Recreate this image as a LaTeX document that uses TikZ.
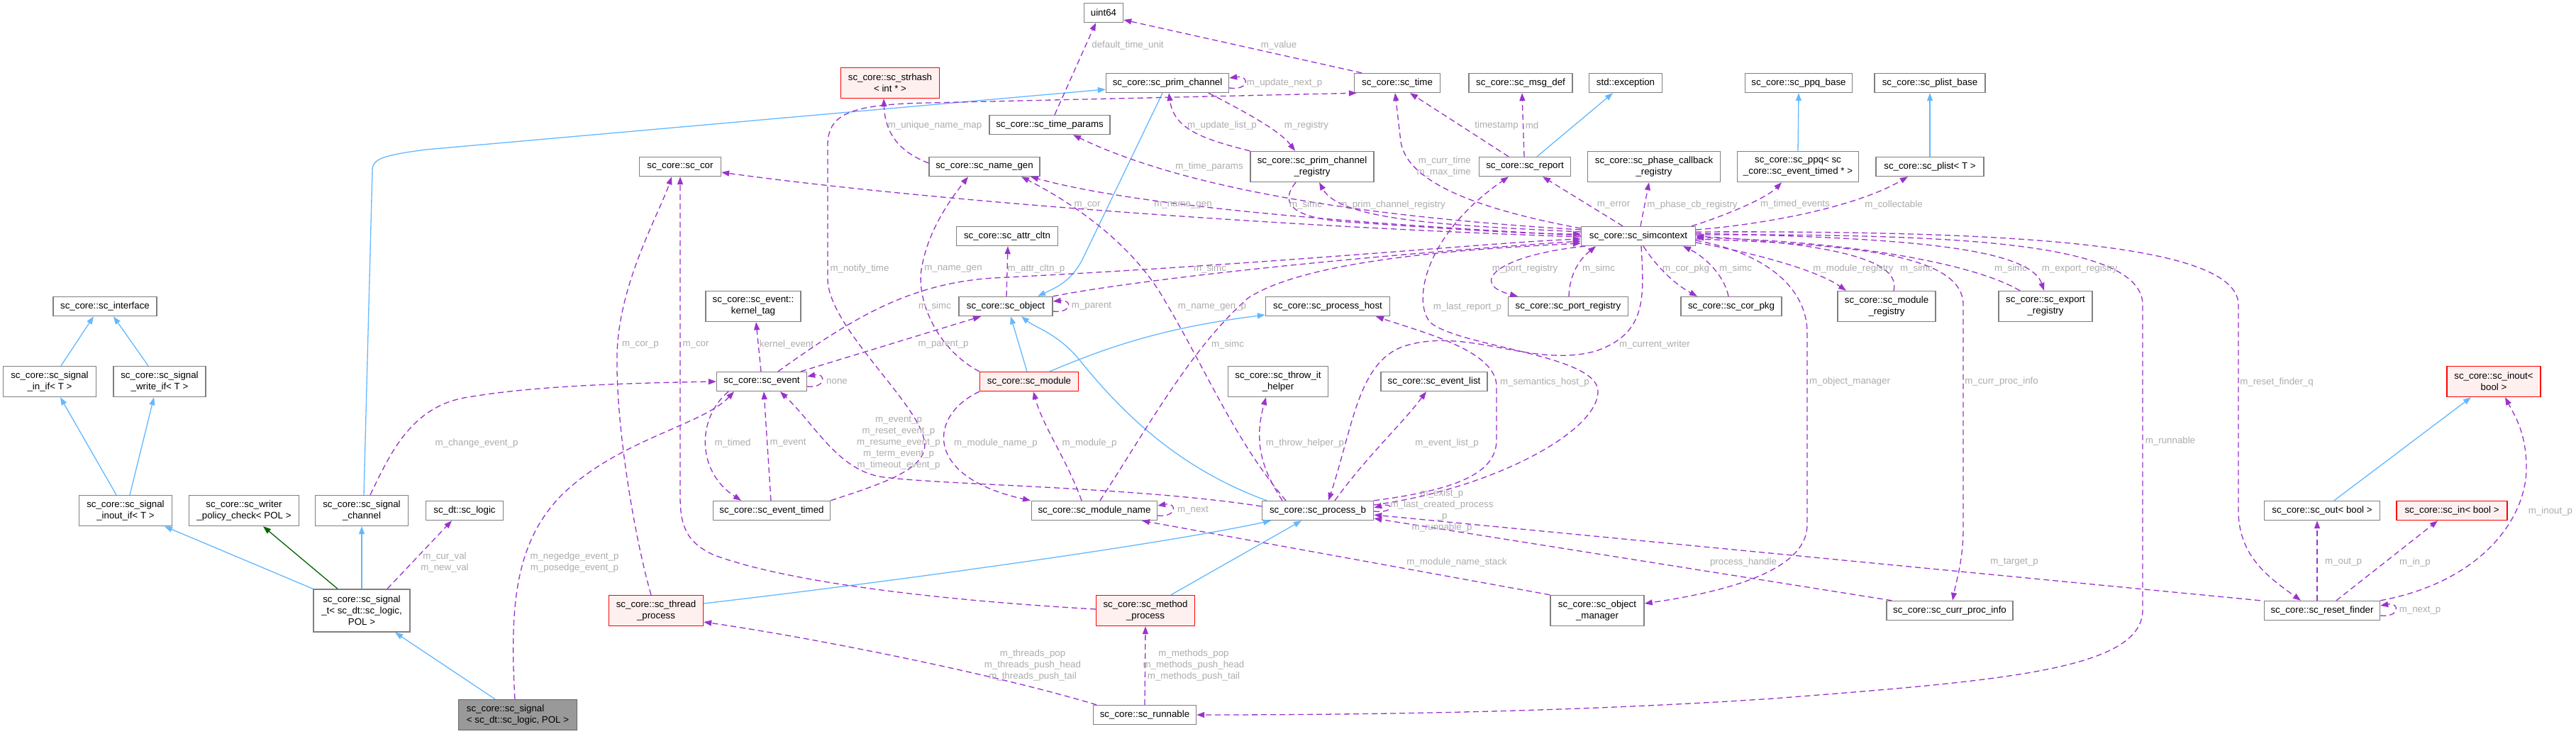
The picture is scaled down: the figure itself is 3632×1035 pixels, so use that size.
\documentclass[tikz,border=0pt]{standalone}
\usepackage{fontspec}
\setmainfont{Liberation Sans}
\usetikzlibrary{arrows.meta}
\definecolor{usecol}{RGB}{154,50,205}
\definecolor{inhcol}{RGB}{99,184,255}
\definecolor{tplcol}{RGB}{0,100,0}
\definecolor{lblcol}{RGB}{172,172,172}
\definecolor{bordcol}{RGB}{128,128,128}
\definecolor{redfill}{RGB}{255,240,240}
\definecolor{grayfill}{RGB}{153,153,153}
\definecolor{grayborder}{RGB}{102,102,102}
\newcommand{\nfont}{\fontsize{13.3}{16}\selectfont}
\begin{document}
\begin{tikzpicture}[x=1pt,y=-1pt,
  cls/.style={draw=bordcol, fill=white, line width=1.4pt, inner sep=0pt, font=\nfont, align=center, text=black},
  redcls/.style={cls, draw=red},
  redfl/.style={fill=redfill},
  graycls/.style={cls, fill=grayfill, draw=grayborder, align=left},
  hA/.style={minimum height=27pt},
  hB/.style={minimum height=43pt},
  hC/.style={minimum height=60pt},
  usage/.style={draw=usecol, line width=1.3pt, dash pattern=on 8pt off 5pt, -{Triangle[length=11pt,width=8pt]}},
  inh/.style={draw=inhcol, line width=1.3pt, -{Triangle[length=11pt,width=8pt]}},
  tpl/.style={draw=tplcol, line width=1.3pt, -{Triangle[length=11pt,width=8pt]}},
  elabel/.style={text=lblcol, font=\nfont, inner sep=0pt, align=center}]
\useasboundingbox (0,0) rectangle (3632,1035);
\fill[white] (0,0) rectangle (3632,1035);

% ---------- nodes ----------
\node[cls,hA,minimum width=146pt] (iface) at (148,432) {sc\_core::sc\_interface};
\node[cls,hB,minimum width=131pt] (inif) at (70,538) {sc\_core::sc\_signal\\\_in\_if< T >};
\node[cls,hB,minimum width=130pt] (wrif) at (225,538) {sc\_core::sc\_signal\\\_write\_if< T >};
\node[cls,hB,minimum width=131pt] (inoutif) at (177,720) {sc\_core::sc\_signal\\\_inout\_if< T >};
\node[cls,hB,minimum width=155pt] (wpc) at (344,720) {sc\_core::sc\_writer\\\_policy\_check< POL >};
\node[cls,hB,minimum width=131pt] (chan) at (510,720) {sc\_core::sc\_signal\\\_channel};
\node[cls,hA,minimum width=109pt] (logic) at (655,720) {sc\_dt::sc\_logic};
\node[cls,hC,minimum width=136pt] (sigt) at (510,861) {sc\_core::sc\_signal\\\_t< sc\_dt::sc\_logic,\\POL >};
\node[graycls,hB,minimum width=167pt] (sig) at (730,1008) {sc\_core::sc\_signal\\< sc\_dt::sc\_logic, POL >};
\node[redcls,redfl,hB,minimum width=133pt] (thread) at (925,861) {sc\_core::sc\_thread\\\_process};
\node[cls,hA,minimum width=115pt] (cor) at (959,235) {sc\_core::sc\_cor};
\node[cls,hB,minimum width=134pt] (kt) at (1062,432) {sc\_core::sc\_event::\\kernel\_tag};
\node[cls,hA,minimum width=127pt] (event) at (1074,538) {sc\_core::sc\_event};
\node[cls,hA,minimum width=165pt] (evtimed) at (1088,720) {sc\_core::sc\_event\_timed};
\node[redcls,redfl,hB,minimum width=139pt] (strhash) at (1255,117) {sc\_core::sc\_strhash\\< int * >};
\node[cls,hA,minimum width=55pt] (uint64) at (1556,18) {uint64};
\node[cls,hA,minimum width=173pt] (prim) at (1646,117) {sc\_core::sc\_prim\_channel};
\node[cls,hA,minimum width=170pt] (tparams) at (1480,176) {sc\_core::sc\_time\_params};
\node[cls,hA,minimum width=156pt] (namegen) at (1388,235) {sc\_core::sc\_name\_gen};
\node[cls,hB,minimum width=174pt] (pcreg) at (1850,235) {sc\_core::sc\_prim\_channel\\\_registry};
\node[cls,hA,minimum width=143pt] (attr) at (1420,333) {sc\_core::sc\_attr\_cltn};
\node[cls,hA,minimum width=132pt] (object) at (1418,432) {sc\_core::sc\_object};
\node[cls,hA,minimum width=175pt] (phost) at (1872,432) {sc\_core::sc\_process\_host};
\node[redcls,redfl,hA,minimum width=139pt] (module) at (1451,538) {sc\_core::sc\_module};
\node[cls,hA,minimum width=177pt] (modname) at (1543,720) {sc\_core::sc\_module\_name};
\node[cls,hA,minimum width=157pt] (procb) at (1858,720) {sc\_core::sc\_process\_b};
\node[redcls,redfl,hB,minimum width=139pt] (method) at (1615,861) {sc\_core::sc\_method\\\_process};
\node[cls,hA,minimum width=145pt] (runnable) at (1614,1008) {sc\_core::sc\_runnable};
\node[cls,hB,minimum width=141pt] (throw) at (1802,538) {sc\_core::sc\_throw\_it\\\_helper};
\node[cls,hA,minimum width=150pt] (evlist) at (2022,538) {sc\_core::sc\_event\_list};
\node[cls,hA,minimum width=121pt] (time) at (1970,117) {sc\_core::sc\_time};
\node[cls,hA,minimum width=146pt] (msgdef) at (2144,117) {sc\_core::sc\_msg\_def};
\node[cls,hA,minimum width=103pt] (exc) at (2292,117) {std::exception};
\node[cls,hA,minimum width=151pt] (ppqb) at (2536,117) {sc\_core::sc\_ppq\_base};
\node[cls,hA,minimum width=156pt] (plistb) at (2721,117) {sc\_core::sc\_plist\_base};
\node[cls,hA,minimum width=129pt] (report) at (2150,235) {sc\_core::sc\_report};
\node[cls,hB,minimum width=187pt] (phase) at (2332,235) {sc\_core::sc\_phase\_callback\\\_registry};
\node[cls,hB,minimum width=171pt] (ppq) at (2535,235) {sc\_core::sc\_ppq< sc\\\_core::sc\_event\_timed * >};
\node[cls,hA,minimum width=152pt] (plist) at (2721,235) {sc\_core::sc\_plist< T >};
\node[cls,hA,minimum width=161pt] (simc) at (2310,333) {sc\_core::sc\_simcontext};
\node[cls,hA,minimum width=169pt] (portreg) at (2211,432) {sc\_core::sc\_port\_registry};
\node[cls,hA,minimum width=142pt] (corpkg) at (2441,432) {sc\_core::sc\_cor\_pkg};
\node[cls,hB,minimum width=138pt] (modreg) at (2660,432) {sc\_core::sc\_module\\\_registry};
\node[cls,hB,minimum width=132pt] (expreg) at (2884,432) {sc\_core::sc\_export\\\_registry};
\node[cls,hB,minimum width=132pt] (objmgr) at (2252,861) {sc\_core::sc\_object\\\_manager};
\node[cls,hA,minimum width=178pt] (cpi) at (2749,861) {sc\_core::sc\_curr\_proc\_info};
\node[redcls,redfl,hB,minimum width=132pt] (pinout) at (3516,538) {sc\_core::sc\_inout<\\bool >};
\node[cls,hA,minimum width=163pt] (pout) at (3274,720) {sc\_core::sc\_out< bool >};
\node[redcls,redfl,hA,minimum width=156pt] (pin) at (3457,720) {sc\_core::sc\_in< bool >};
\node[cls,hA,minimum width=163pt] (rf) at (3274,861) {sc\_core::sc\_reset\_finder};

% ---------- inheritance ----------
\draw[inh] ([xshift=16]inif.north) -- ([xshift=-16]iface.south);
\draw[inh] ([xshift=-16]wrif.north) -- ([xshift=12]iface.south);
\draw[inh] ([xshift=-13]inoutif.north) -- ([xshift=15]inif.south);
\draw[inh] ([xshift=6]inoutif.north) -- ([xshift=-8]wrif.south);
\draw[inh] (sigt.north west) -- ([xshift=55]inoutif.south);
\draw[tpl] ([xshift=-34]sigt.north) -- ([xshift=27]wpc.south);
\draw[inh] (sigt.north) -- (chan.south);
\draw[inh] ([xshift=-32]sig.north) -- ([xshift=47]sigt.south);
\draw[inh] ([xshift=3]chan.north) -- (525,240) .. controls (525,224) and (540,219) .. (600,211) -- ([yshift=-9]prim.west);
\draw[inh] ([xshift=-7]prim.south) -- (1528,362) .. controls (1512,396) and (1490,405) .. ([xshift=45]object.north);
\draw[inh] ([xshift=17]report.north) -- ([xshift=-18]exc.south);
\draw[inh] (ppq.north) -- (ppqb.south);
\draw[inh] (plist.north) -- (plistb.south);
\draw[inh] ([xshift=-3]module.north) -- ([xshift=7]object.south);
\draw[inh] ([xshift=29]module.north) .. controls (1560,490) and (1640,462) .. ([yshift=-12]phost.west);
\draw[inh] ([xshift=-72]procb.north) .. controls (1660,660) and (1580,580) .. (1520,505) .. controls (1490,470) and (1460,462) .. ([xshift=22]object.south);
\draw[inh] ([yshift=10]thread.east) .. controls (1300,815) and (1650,765) .. ([xshift=-66]procb.south);
\draw[inh] ([xshift=36]method.north) -- ([xshift=-23]procb.south);
\draw[inh] ([xshift=17]pout.north) -- ([xshift=-32]pinout.south);

% ---------- usage ----------
\draw[usage] ([xshift=-50]time.north) -- ([yshift=-10]uint64.east);
\draw[usage] ([xshift=7]tparams.north) -- ([xshift=-11]uint64.south);
\draw[usage] ([yshift=-7]prim.east) .. controls (1762,128) and (1762,106) .. ([yshift=7]prim.east);
\draw[usage] ([xshift=58]prim.south) .. controls (1760,160) and (1805,185) .. ([xshift=-24]pcreg.north);
\draw[usage] (pcreg.north west) .. controls (1690,195) and (1655,180) .. ([xshift=2]prim.south);
\draw[usage] ([yshift=5]namegen.west) .. controls (1270,215) and (1248,190) .. ([xshift=-9]strhash.south);
\draw[usage] (evtimed.north east) .. controls (1250,680) and (1312,660) .. (1303,620) .. controls (1292,565) and (1167,460) .. (1167,393) -- (1167,205) .. controls (1167,160) and (1200,147) .. (1310,145) -- ([xshift=4]time.south west);
\draw[usage] ([yshift=11]simc.west) .. controls (2100,298) and (1985,262) .. (1975,200) -- ([xshift=-3]time.south);
\draw[usage] ([xshift=-22]simc.north) -- ([xshift=25]report.south);
\draw[usage] ([xshift=-23]report.north) -- ([xshift=18]time.south);
\draw[usage] ([xshift=-1]report.north) -- ([xshift=2]msgdef.south);
\draw[usage] ([xshift=3]simc.north) -- ([xshift=-7]phase.south);
\draw[usage] ([xshift=75]simc.north) .. controls (2430,305) and (2490,280) .. ([xshift=-23]ppq.south);
\draw[usage] ([yshift=9]simc.east) .. controls (2500,315) and (2620,290) .. ([xshift=-31]plist.south);
\draw[usage] ([yshift=6]simc.west) .. controls (2050,318) and (1890,312) .. ([xshift=10]pcreg.south);
\draw[usage] ([xshift=-23]pcreg.south) .. controls (1800,290) and (1830,308) .. (1900,313) .. controls (2050,323) and (2150,330) .. ([yshift=3]simc.west);
\draw[usage] ([yshift=1]simc.west) .. controls (1900,315) and (1600,290) .. ([xshift=65]namegen.south);
\draw[usage] ([xshift=-45]procb.north) .. controls (1740,620) and (1700,520) .. (1640,420) .. controls (1590,335) and (1500,280) .. ([xshift=52]namegen.south);
\draw[usage] ([yshift=-1]simc.west) .. controls (1800,320) and (1300,282) .. ([yshift=-8]cor.east);
\draw[usage] ([yshift=9]simc.west) .. controls (2000,310) and (1700,280) .. ([xshift=33]tparams.south);
\draw[usage] ([xshift=23]event.north) .. controls (1200,450) and (1280,400) .. (1400,392) .. controls (1800,372) and (2100,342) .. ([yshift=-4]simc.west);
\draw[usage] (object.north east) .. controls (1600,395) and (1900,362) .. ([yshift=-7]simc.west);
\draw[usage] ([xshift=8]modname.north) .. controls (1620,600) and (1680,490) .. (1760,420) .. controls (1850,362) and (2100,350) .. ([yshift=-10]simc.west);
\draw[usage] ([xshift=1]portreg.north) .. controls (2213,385) and (2228,365) .. ([xshift=-60]simc.south);
\draw[usage] ([xshift=-75]simc.south) .. controls (2110,360) and (2070,400) .. ([xshift=-71]portreg.north);
\draw[usage] ([xshift=7]simc.south) .. controls (2335,375) and (2360,400) .. ([xshift=-48]corpkg.north);
\draw[usage] ([xshift=-4]corpkg.north) .. controls (2430,385) and (2400,360) .. ([xshift=63]simc.south);
\draw[usage] ([yshift=-9]simc.east) .. controls (2470,356) and (2560,380) .. ([xshift=-57]modreg.north);
\draw[usage] ([xshift=10]modreg.north) .. controls (2680,370) and (2600,345) .. (simc.east);
\draw[usage] ([xshift=-36]expreg.north) .. controls (2780,370) and (2600,340) .. ([yshift=-2]simc.east);
\draw[usage] ([yshift=4]simc.east) .. controls (2650,335) and (2860,345) .. ([xshift=-2]expreg.north);
\draw[usage] ([yshift=-6]simc.east) .. controls (2480,355) and (2548,400) .. (2548,470) -- (2548,740) .. controls (2548,800) and (2450,832) .. ([yshift=10]objmgr.east);
\draw[usage] ([yshift=-4]simc.east) .. controls (2620,345) and (2768,360) .. (2768,430) -- (2768,745) .. controls (2768,790) and (2758,820) .. ([xshift=4]cpi.north);
\draw[usage] ([yshift=2]simc.east) .. controls (2750,330) and (3021,340) .. (3021,430) -- (3021,860) .. controls (3021,945) and (2820,960) .. (2500,985) .. controls (2200,1005) and (1900,1008) .. (runnable.east);
\draw[usage] ([yshift=6]simc.east) .. controls (2850,325) and (3156,345) .. (3156,430) -- (3156,720) .. controls (3156,785) and (3200,815) .. ([xshift=-30]rf.north);
\draw[usage] ([xshift=4]simc.south) .. controls (2318,420) and (2322,470) .. (2250,495) .. controls (2160,520) and (2070,460) .. (1980,488) .. controls (1915,510) and (1908,600) .. ([xshift=15]procb.north);
\draw[usage] ([yshift=8]procb.east) .. controls (2100,690) and (2253,610) .. (2253,552) .. controls (2253,500) and (2060,490) .. (2017,455) .. controls (1990,425) and (2010,330) .. ([xshift=-23]report.south);
\draw[usage] (procb.north east) .. controls (2060,690) and (2110,665) .. (2110,620) -- (2110,545) .. controls (2110,495) and (2010,470) .. ([xshift=68]phost.south);
\draw[usage] ([yshift=-1]procb.east) .. controls (1966,724) and (1966,708) .. ([yshift=4]procb.east);
\draw[usage] ([xshift=-5]rf.north west) -- ([yshift=-6]procb.east);
\draw[usage] ([xshift=8]cpi.north west) -- ([yshift=-11]procb.east);
\draw[usage] ([xshift=24]procb.north) .. controls (1930,640) and (1975,600) .. ([xshift=-11]evlist.south);
\draw[usage] ([xshift=-50]procb.north) .. controls (1785,670) and (1765,630) .. ([xshift=-17]throw.south);
\draw[usage] ([yshift=6]procb.west) .. controls (1600,686) and (1320,684) .. (1240,672) .. controls (1180,660) and (1150,600) .. ([xshift=26]event.south);
\draw[usage] ([xshift=-47]event.south) .. controls (982,590) and (982,665) .. ([xshift=-43]evtimed.north);
\draw[usage] ([xshift=-1]evtimed.north) -- ([xshift=3]event.south);
\draw[usage] ([yshift=-7]event.east) .. controls (1165,548) and (1165,525) .. ([yshift=7]event.east);
\draw[usage] ([xshift=-1]event.north) -- ([xshift=4]kt.south);
\draw[usage] ([xshift=55]event.north) -- ([xshift=-35]object.south);
\draw[usage] ([xshift=1]object.north) -- ([xshift=1]attr.south);
\draw[usage] ([yshift=-7]object.east) .. controls (1512,442) and (1512,422) .. ([yshift=7]object.east);
\draw[usage] (module.north west) .. controls (1320,492) and (1290,420) .. (1300,375) .. controls (1310,320) and (1345,275) .. ([xshift=-23]namegen.south);
\draw[usage] (module.south west) .. controls (1310,585) and (1300,672) .. ([xshift=-90]modname.north);
\draw[usage] ([xshift=-18]modname.north) .. controls (1505,650) and (1470,600) .. ([xshift=6]module.south);
\draw[usage] ([yshift=-7]modname.east) .. controls (1660,730) and (1660,708) .. ([yshift=7]modname.east);
\draw[usage] (objmgr.north west) -- ([xshift=67]modname.south);
\draw[usage] ([xshift=36]sigt.north) -- ([xshift=-18]logic.south);
\draw[usage] ([xshift=-4]sig.north) .. controls (718,850) and (728,765) .. (790,700) .. controls (870,620) and (990,600) .. ([xshift=-39]event.south);
\draw[usage] ([xshift=12]chan.north) .. controls (550,640) and (580,572) .. (660,560) .. controls (760,543) and (900,540) .. (event.west);
\draw[usage] ([xshift=-7]thread.north) .. controls (895,760) and (868,600) .. (870,500) .. controls (872,400) and (930,300) .. ([xshift=-12]cor.south);
\draw[usage] ([yshift=2]method.west) .. controls (1300,845) and (1100,818) .. (1005,782) .. controls (970,765) and (959,745) .. (959,700) -- (cor.south);
\draw[usage] ([xshift=-68]runnable.north) .. controls (1400,950) and (1150,900) .. ([yshift=-16]thread.east);
\draw[usage] (runnable.north) -- (method.south);
\draw[usage] ([xshift=-7]rf.north) -- ([xshift=-7]pout.south);
\draw[usage] ([xshift=20]rf.north) -- ([xshift=-20]pin.south);
\draw[usage] (rf.north east) .. controls (3500,820) and (3562,730) .. (3562,660) .. controls (3562,610) and (3545,585) .. ([xshift=16]pinout.south);
\draw[usage] ([yshift=-7]rf.east) .. controls (3384,871) and (3384,849) .. ([yshift=7]rf.east);

% ---------- labels ----------
\node[elabel] (l1) at (1803,64) {m\_value};
\node[elabel] (l2) at (1590,64) {default\_time\_unit};
\node[elabel] (l3) at (1811,117) {m\_update\_next\_p};
\node[elabel] (l4) at (1318,177) {m\_unique\_name\_map};
\node[elabel] (l5) at (1723,177) {m\_update\_list\_p};
\node[elabel] (l6) at (1842,177) {m\_registry};
\node[elabel] (l7) at (2110,177) {timestamp};
\node[elabel] (l8) at (2160,177) {md};
\node[elabel,align=right,anchor=east] (l9) at (2074,235) {m\_curr\_time\\m\_max\_time};
\node[elabel] (l10) at (1705,235) {m\_time\_params};
\node[elabel] (l11) at (1533,289) {m\_cor};
\node[elabel] (l12) at (1668,289) {m\_name\_gen};
\node[elabel] (l13) at (1841,289) {m\_simc};
\node[elabel] (l14) at (1963,289) {m\_prim\_channel\_registry};
\node[elabel] (l15) at (2275,289) {m\_error};
\node[elabel] (l16) at (2386,289) {m\_phase\_cb\_registry};
\node[elabel] (l17) at (2531,288) {m\_timed\_events};
\node[elabel] (l18) at (2670,289) {m\_collectable};
\node[elabel] (l19) at (1212,379) {m\_notify\_time};
\node[elabel] (l20) at (1344,379) {m\_name\_gen};
\node[elabel] (l21) at (1461,379) {m\_attr\_cltn\_p};
\node[elabel] (l22) at (1706,379) {m\_simc};
\node[elabel] (l23) at (2150,379) {m\_port\_registry};
\node[elabel] (l24) at (2254,379) {m\_simc};
\node[elabel] (l25) at (2377,379) {m\_cor\_pkg};
\node[elabel] (l26) at (2447,379) {m\_simc};
\node[elabel] (l27) at (2613,379) {m\_module\_registry};
\node[elabel] (l28) at (2702,379) {m\_simc};
\node[elabel] (l29) at (2835,379) {m\_simc};
\node[elabel] (l30) at (2932,379) {m\_export\_registry};
\node[elabel] (l31) at (1318,432) {m\_simc};
\node[elabel] (l32) at (1539,432) {m\_parent};
\node[elabel] (l33) at (1709,433) {m\_name\_gen\_p};
\node[elabel] (l34) at (2069,433) {m\_last\_report\_p};
\node[elabel] (l35) at (903,486) {m\_cor\_p};
\node[elabel] (l36) at (981,486) {m\_cor};
\node[elabel] (l37) at (1109,486) {kernel\_event};
\node[elabel] (l38) at (1330,486) {m\_parent\_p};
\node[elabel] (l39) at (1731,486) {m\_simc};
\node[elabel] (l40) at (2333,486) {m\_current\_writer};
\node[elabel] (l41) at (1180,538) {none};
\node[elabel] (l42) at (2178,539) {m\_semantics\_host\_p};
\node[elabel] (l43) at (2608,538) {m\_object\_manager};
\node[elabel] (l44) at (2822,538) {m\_curr\_proc\_info};
\node[elabel] (l45) at (3210,539) {m\_reset\_finder\_q};
\node[elabel] (l46) at (672,625) {m\_change\_event\_p};
\node[elabel] (l47) at (1033,625) {m\_timed};
\node[elabel] (l48) at (1111,625) {m\_event};
\node[elabel] (l49) at (1267,625) {m\_event\_p\\m\_reset\_event\_p\\m\_resume\_event\_p\\m\_term\_event\_p\\m\_timeout\_event\_p};
\node[elabel] (l50) at (1404,625) {m\_module\_name\_p};
\node[elabel] (l51) at (1536,625) {m\_module\_p};
\node[elabel] (l52) at (1840,625) {m\_throw\_helper\_p};
\node[elabel] (l53) at (2040,625) {m\_event\_list\_p};
\node[elabel] (l54) at (3060,622) {m\_runnable};
\node[elabel] (l55) at (2033,720) {m\_exist\_p\\m\_last\_created\_process\\\_p\\m\_runnable\_p};
\node[elabel] (l56) at (1682,720) {m\_next};
\node[elabel] (l57) at (3596,721) {m\_inout\_p};
\node[elabel] (l58) at (627,793) {m\_cur\_val\\m\_new\_val};
\node[elabel] (l59) at (810,793) {m\_negedge\_event\_p\\m\_posedge\_event\_p};
\node[elabel] (l60) at (2054,793) {m\_module\_name\_stack};
\node[elabel] (l61) at (2458,793) {process\_handle};
\node[elabel] (l62) at (2840,793) {m\_target\_p};
\node[elabel] (l63) at (3304,793) {m\_out\_p};
\node[elabel] (l64) at (3405,793) {m\_in\_p};
\node[elabel] (l65) at (3412,861) {m\_next\_p};
\node[elabel] (l66) at (1456,938) {m\_threads\_pop\\m\_threads\_push\_head\\m\_threads\_push\_tail};
\node[elabel] (l67) at (1683,938) {m\_methods\_pop\\m\_methods\_push\_head\\m\_methods\_push\_tail};
\end{tikzpicture}
\end{document}
